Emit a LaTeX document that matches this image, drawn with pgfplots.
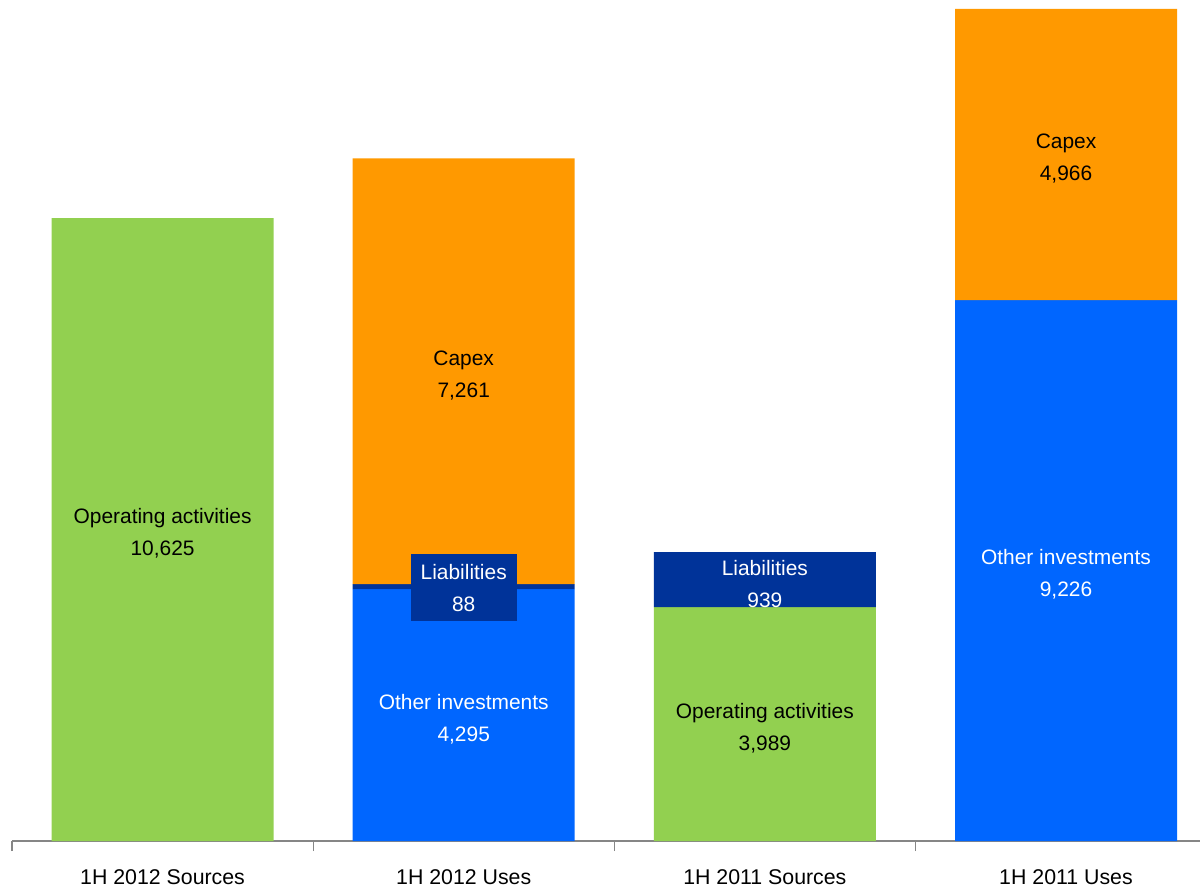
\documentclass[border=0pt]{standalone}
\usepackage{fontspec}
\setmainfont{Liberation Sans}
\usepackage{pgfplots}
\pgfplotsset{compat=1.18}
\definecolor{cgreen}{HTML}{92D050}
\definecolor{corange}{HTML}{FF9900}
\definecolor{cblue}{HTML}{0066FF}
\definecolor{cnavy}{HTML}{003399}
\definecolor{caxis}{HTML}{868686}
\tikzset{lab/.style={align=center, font=\fontsize{10.5}{16}\selectfont, inner sep=0pt, yshift=-2bp}}
\begin{document}
\begin{tikzpicture}
\path[use as bounding box] (0,0) rectangle (600bp,444.5bp);
\begin{axis}[
 at={(6bp,24bp)}, anchor=south west,
 scale only axis, width=594bp, height=420.5bp,
 ybar stacked, reverse stacked plots=false, bar width=111bp,
 xmin=-0.5, xmax=3.445, ymin=0, ymax=14344,
 axis y line=none,
 axis x line*=bottom,
 x axis line style={caxis, line width=0.6bp, -},
 xtick={0,1,2,3},
 xticklabels={1H 2012 Sources, 1H 2012 Uses, 1H 2011 Sources, 1H 2011 Uses},
 major tick length=0pt,
 minor xtick={-0.5,0.5,1.5,2.5},
 minor tick length=5bp,
 tick align=outside,
 minor tick style={caxis, line width=0.6bp},
 xticklabel style={font=\fontsize{10.7}{12}\selectfont, yshift=-11bp},
 clip=false,
]
% Operating activities
\addplot[fill=cgreen, draw=none] coordinates {(0,10625) (1,0) (2,3989) (3,0)};
% Other investments
\addplot[fill=cblue, draw=none] coordinates {(0,0) (1,4295) (2,0) (3,9226)};
% Liabilities
\addplot[fill=cnavy, draw=none] coordinates {(0,0) (1,88) (2,939) (3,0)};
% Capex
\addplot[fill=corange, draw=none] coordinates {(0,0) (1,7261) (2,0) (3,4966)};

\node[lab] at (axis cs:0,5312.5) {Operating activities\\10,625};
\node[lab, text=white] at (axis cs:1,2147.5) {Other investments\\4,295};
\node[lab, fill=cnavy, text=white, inner xsep=5bp, minimum height=33.5bp, yshift=1.5bp] at (axis cs:1,4339) {Liabilities\\88};
\node[lab] at (axis cs:1,8013.5) {Capex\\7,261};
\node[lab] at (axis cs:2,1994.5) {Operating activities\\3,989};
\node[lab, text=white] at (axis cs:2,4458.5) {Liabilities\\939};
\node[lab, text=white] at (axis cs:3,4613) {Other investments\\9,226};
\node[lab] at (axis cs:3,11709) {Capex\\4,966};
\end{axis}
\end{tikzpicture}
\end{document}
